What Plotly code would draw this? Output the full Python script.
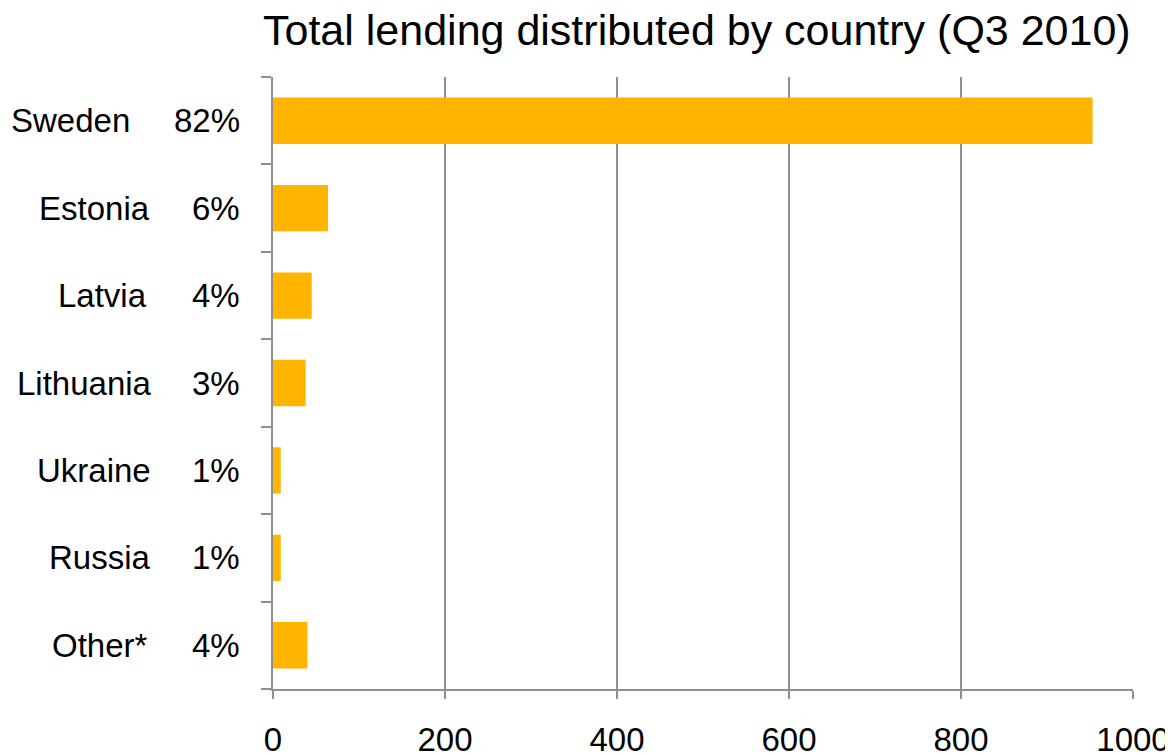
import plotly.graph_objects as go

# ---- data ----
countries = ["Sweden", "Estonia", "Latvia", "Lithuania", "Ukraine", "Russia", "Other*"]
lending = [953, 64, 45, 38, 9, 9, 40]
shares = ["82%", "6%", "4%", "3%", "1%", "1%", "4%"]
x_ticks = [0, 200, 400, 600, 800, 1000]
title_text = "Total lending distributed by country (Q3 2010)"

# ---- style ----
BAR = "#FFB400"
GRID = "#8f8f8f"
FONT = "Liberation Sans, Arial, sans-serif"
name_shift = [-141, -121, -124, -119, -120, -120, -123]  # pixel offsets of name column

fig = go.Figure(go.Bar(
    x=lending, y=countries, orientation="h",
    marker=dict(color=BAR, line=dict(width=0)),
    hoverinfo="x+y",
))

annotations = []
for c, s, dx in zip(countries, shares, name_shift):
    annotations.append(dict(x=0, xref="paper", y=c, yref="y", text=c, showarrow=False,
                            xanchor="right", yanchor="middle", xshift=dx,
                            font=dict(family=FONT, size=33, color="black")))
    annotations.append(dict(x=0, xref="paper", y=c, yref="y", text=s, showarrow=False,
                            xanchor="right", yanchor="middle", xshift=-31,
                            font=dict(family=FONT, size=33, color="black")))
annotations.append(dict(x=0.4925, xref="paper", y=1.0776, yref="paper", text=title_text,
                        showarrow=False, xanchor="center", yanchor="middle",
                        font=dict(family=FONT, size=43, color="black")))

fig.update_layout(
    width=1165, height=746,
    margin=dict(l=265, r=40, t=69, b=65, pad=0, autoexpand=False),
    paper_bgcolor="white", plot_bgcolor="white",
    bargap=0.47,
    showlegend=False,
    annotations=annotations,
    font=dict(family=FONT, size=33, color="black"),
)
fig.update_xaxes(
    range=[0, 1000], tickvals=x_ticks, ticktext=[str(v) for v in x_ticks],
    showgrid=True, gridcolor=GRID, gridwidth=1.5,
    showline=True, linecolor=GRID, linewidth=1.5,
    ticks="outside", ticklen=8, tickcolor=GRID, tickwidth=1.5,
    ticklabelstandoff=13, automargin=False,
    tickfont=dict(family=FONT, size=33, color="black"),
    zeroline=False, fixedrange=True,
)
fig.update_yaxes(
    categoryorder="array", categoryarray=countries[::-1],
    tickson="boundaries", ticks="outside", ticklen=10, tickcolor=GRID, tickwidth=1.5,
    showticklabels=False, showgrid=False, automargin=False,
    showline=True, linecolor=GRID, linewidth=1.5,
    zeroline=False, fixedrange=True,
)

fig.write_html("out.html")
